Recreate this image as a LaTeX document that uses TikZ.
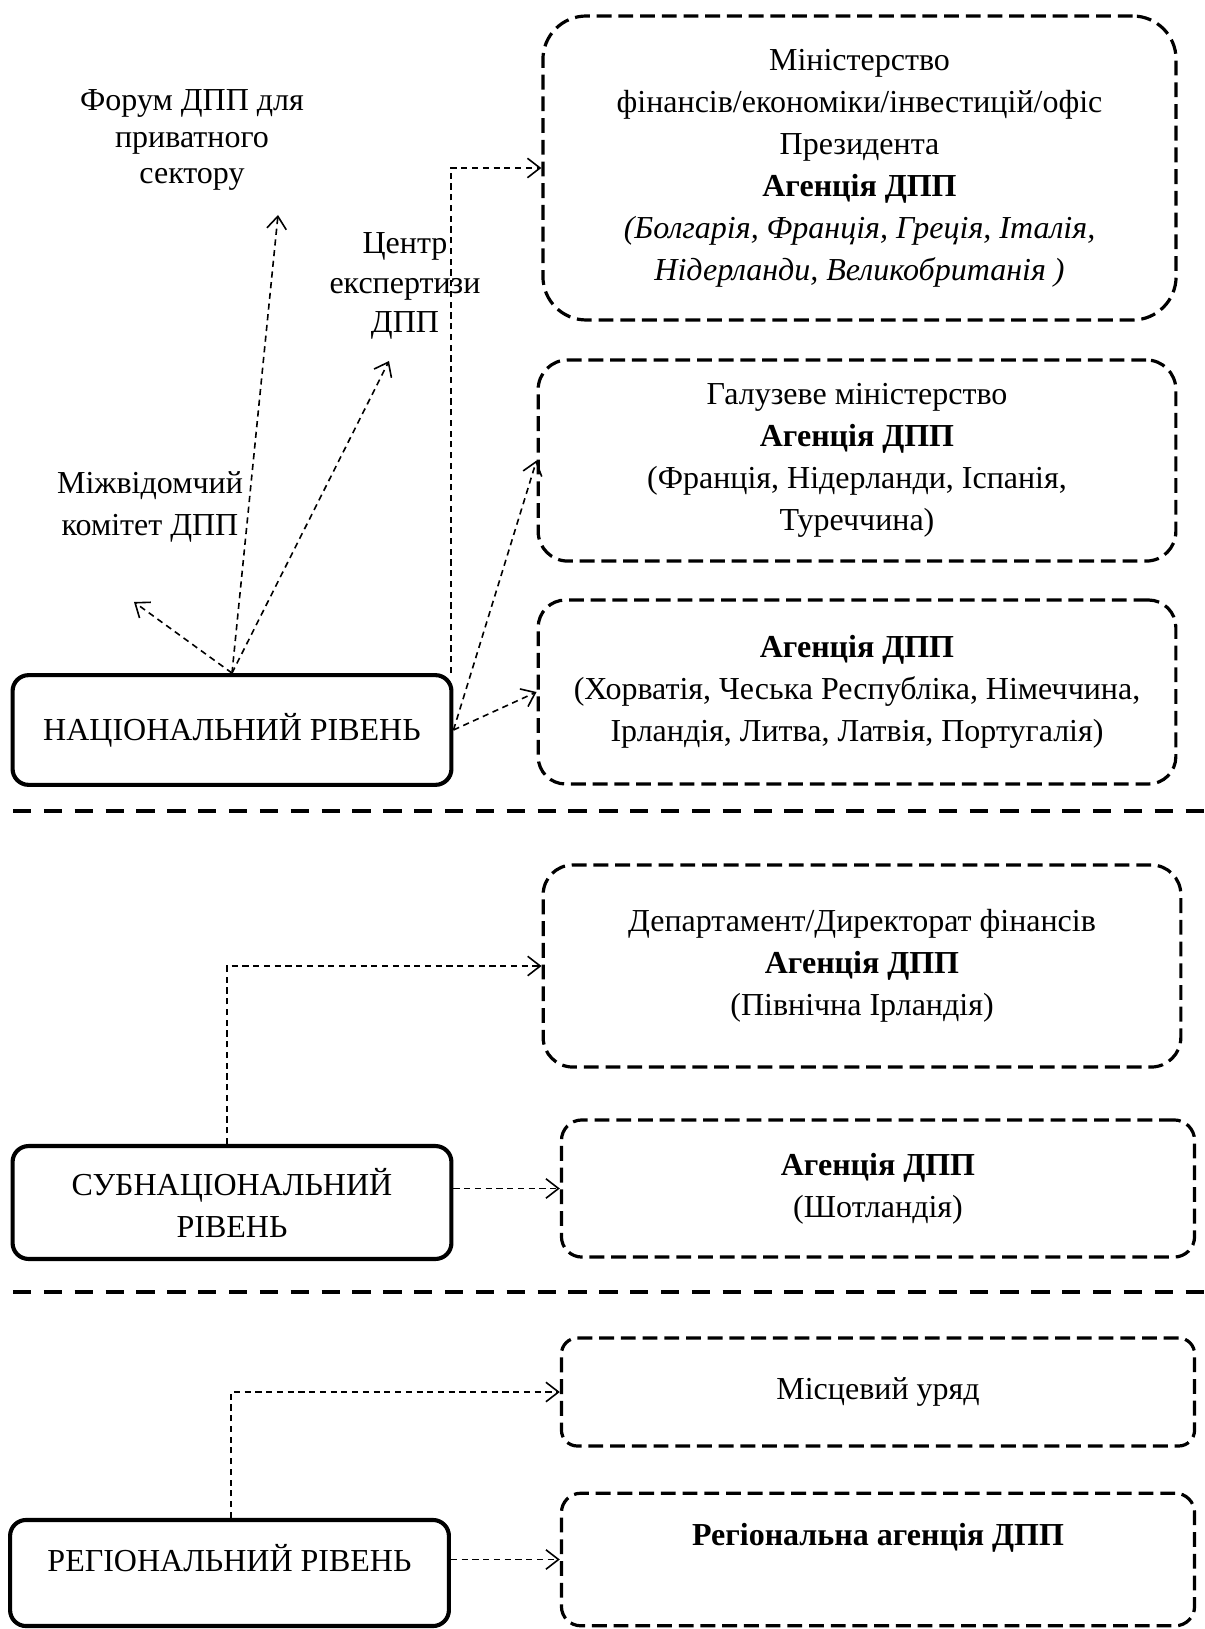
\documentclass[tikz,border=0pt]{standalone}
\usepackage{fontspec}
\setmainfont{Liberation Serif}
\usetikzlibrary{arrows.meta,positioning}

\begin{document}
\begin{tikzpicture}[
  x=0.4375pt, y=-0.4375pt,
  level/.style={draw, line width=1.8pt, rounded corners=7pt, minimum width=192pt, align=center, font=\fontsize{14}{18.4}\selectfont},
  agency/.style={draw, line width=1.4pt, dash pattern=on 6.5pt off 3pt, rounded corners=#1, minimum width=277pt, align=center, font=\fontsize{14}{18.4}\selectfont},
  agency/.default=12pt,
  note/.style={align=center, font=\fontsize{14}{#1}\selectfont},
  note/.default=17pt,
  link/.style={line width=0.7pt, dash pattern=on 2.7pt off 2pt, -{Straight Barb[length=5.5pt, width=8.5pt, line width=0.7pt]}},
  divider/.style={line width=2pt, dash pattern=on 8pt off 5.5pt}
]
\useasboundingbox (0,0) rectangle (1204,1629);
\node[agency=19pt, minimum height=133pt] (b1) at (859.5,168) {Міністерство\\ фінансів/економіки/інвестицій/офіс\\ Президента\\ \textbf{Агенція ДПП}\\ \textit{(Болгарія, Франція, Греція, Італія,}\\ \textit{Нідерланди, Великобританія )}};
\node[agency=13pt, minimum width=279pt, minimum height=88pt] (b2) at (857,460.5) {Галузеве міністерство\\ \textbf{Агенція ДПП}\\ (Франція, Нідерланди, Іспанія,\\ Туреччина)};
\node[agency=12pt, minimum width=279pt, minimum height=80.5pt] (b3) at (857,692) {\textbf{Агенція ДПП}\\ (Хорватія, Чеська Республіка, Німеччина,\\ Ірландія, Литва, Латвія, Португалія)};
\node[agency=13pt, minimum width=279pt, minimum height=88.4pt] (b4) at (862,966) {Департамент/Директорат фінансів\\ \textbf{Агенція ДПП}\\ (Північна Ірландія)};
\node[agency=9pt, minimum height=60pt] (b5) at (878,1188.5) {\textbf{Агенція ДПП}\\ (Шотландія)};
\node[agency=7pt, minimum height=47.25pt] (b6) at (878,1392) {Місцевий уряд};
\node[agency=8.5pt, minimum height=58pt, text height=9.5pt, text depth=22pt] (b7) at (878,1559.5) {\textbf{Регіональна агенція ДПП}};

\node[level, minimum height=48pt] (nat) at (232,730) {НАЦІОНАЛЬНИЙ РІВЕНЬ};
\node[level, minimum height=49.4pt] (sub) at (232,1202.5) {СУБНАЦІОНАЛЬНИЙ\\ РІВЕНЬ};
\node[level, minimum height=46.4pt, text height=9.5pt, text depth=11pt] (reg) at (229.5,1573) {РЕГІОНАЛЬНИЙ РІВЕНЬ};

\node[note=15.9pt] (forum) at (192,140) {Форум ДПП для\\ приватного\\ сектору};
\node[note=17.3pt] (centre) at (405,286) {Центр\\ експертизи\\ ДПП};
\node[note=18.2pt] (inter) at (150,507) {Міжвідомчий\\ комітет ДПП};
\coordinate (tipForum) at (278,215);
\coordinate (tipCentre) at (389,361);
\coordinate (tipInter) at (134,602);

\draw[link] (nat.north) -- (tipInter);
\draw[link] (nat.north) -- (tipForum);
\draw[link] (nat.north) -- (tipCentre);
\draw[link] ([xshift=-1.2pt]nat.north east) |- (b1.west);
\draw[link] (nat.east) -- (b2.west);
\draw[link] (nat.east) -- (b3.west);
\draw[link] ([xshift=-2.2pt]sub.north) |- (b4.west);
\draw[link] (sub.east |- b5.west) -- (b5.west);
\draw[link] ([xshift=0.6pt]reg.north) |- (b6.west);
\draw[link] (reg.east |- b7.west) -- (b7.west);

\draw[divider] (13,811) -- (1204,811);
\draw[divider] (13,1292) -- (1204,1292);
\end{tikzpicture}
\end{document}
